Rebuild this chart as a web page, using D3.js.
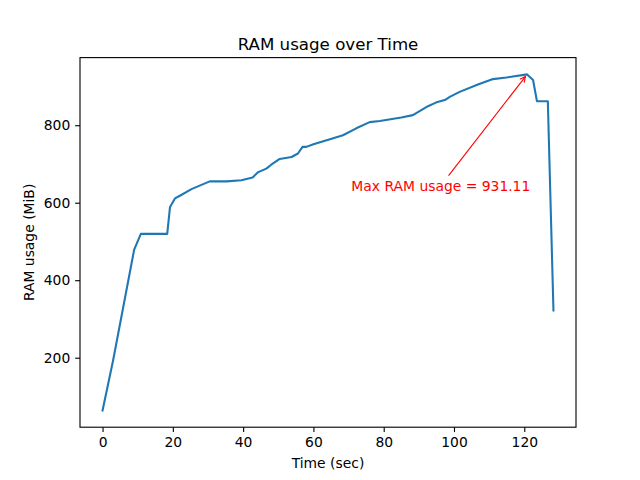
<!DOCTYPE html>
<html><head><meta charset="utf-8">
<script src="https://cdn.jsdelivr.net/npm/d3@7"></script>
<style>body{margin:0;background:#fff}svg{display:block;font-family:"DejaVu Sans",sans-serif}</style>
</head><body>
<svg id="c" width="640" height="480"></svg>
<script>
const times = [0, 3, 9, 10.9, 18.4, 19.2, 20.6, 22, 25.3, 30.5, 35.3, 39.5, 42.7, 44.3, 46.6, 48, 50.4, 53.8, 55.6, 56.9, 58, 60, 64, 68.4, 72.2, 76, 78.9, 85, 88.3, 92.6, 95, 97.4, 98.8, 101.6, 106.8, 111.1, 114.9, 120.8, 122.5, 123.6, 126.7, 128.3];
const ramValues = [64, 193, 479, 519.6, 519.6, 589, 611, 618, 635, 655, 655, 658, 665, 679, 688, 698, 713, 718, 727, 744, 744, 751, 762, 774, 792, 808, 811, 820, 826, 849, 859, 865, 873, 886, 905, 919, 923, 931.11, 916.6, 862, 862, 322];
const xTicks = [0, 20, 40, 60, 80, 100, 120];
const yTicks = [200, 400, 600, 800];
const titleText = "RAM usage over Time";
const xLabel = "Time (sec)";
const yLabel = "RAM usage (MiB)";

const svg = d3.select("#c");
const L = 80, R = 576, T = 57.6, B = 427.2;
const pad = (a, b) => { const m = (b - a) * 0.05; return [a - m, b + m]; };
const x = d3.scaleLinear().domain(pad(d3.min(times), d3.max(times))).range([L, R]);
const y = d3.scaleLinear().domain(pad(d3.min(ramValues), d3.max(ramValues))).range([B, T]);
const data = times.map((t, i) => [t, ramValues[i]]);

// axes
const xa = svg.append("g").attr("transform", `translate(0,${B})`)
  .call(d3.axisBottom(x).tickValues(xTicks).tickSize(4.86).tickPadding(4.86).tickFormat(d3.format("d")));
const ya = svg.append("g").attr("transform", `translate(${L},0)`)
  .call(d3.axisLeft(y).tickValues(yTicks).tickSize(4.86).tickPadding(4.86).tickFormat(d3.format("d")));
[xa, ya].forEach(g => {
  g.select(".domain").remove();
  g.selectAll("line").attr("stroke", "#000").attr("stroke-width", 1.11);
  g.selectAll("text").attr("font-size", 13.89).attr("fill", "#000").attr("font-family", "DejaVu Sans");
});
xa.selectAll("text").attr("dy", "0.76em");

// line
svg.append("path").datum(data)
  .attr("d", d3.line().x(d => x(d[0])).y(d => y(d[1])))
  .attr("fill", "none").attr("stroke", "#1f77b4").attr("stroke-width", 2.08)
  .attr("stroke-linejoin", "round").attr("stroke-linecap", "square");

// frame
svg.append("rect").attr("x", L).attr("y", T).attr("width", R - L).attr("height", B - T)
  .attr("fill", "none").attr("stroke", "#000").attr("stroke-width", 1.11);

// annotation
const maxI = d3.maxIndex(ramValues);
const mt = times[maxI], mv = ramValues[maxI];
const txt = svg.append("text").attr("x", x(mt - 50)).attr("y", y(mv - 300))
  .attr("font-size", 13.89).attr("fill", "red").text("Max RAM usage = " + mv.toFixed(2));
const bb = txt.node().getBBox();
const cx = bb.x + bb.width / 2, cy = bb.y + bb.height / 2;
const px = x(mt), py = y(mv);
const dx = px - cx, dy = py - cy;
const boxTop = bb.y - 2;
const s = (boxTop - cy) / dy;
const sx = cx + dx * s, sy = cy + dy * s;
const len = Math.hypot(px - sx, py - sy);
const ux = (px - sx) / len, uy = (py - sy) / len;
const ex = px - ux * 2.78, ey = py - uy * 2.78;
svg.append("line").attr("x1", sx).attr("y1", sy).attr("x2", ex).attr("y2", ey)
  .attr("stroke", "red").attr("stroke-width", 1.11);
const hl = 6.2, ang = 0.46;
const back = Math.atan2(-uy, -ux);
const h1 = [ex + hl * Math.cos(back + ang), ey + hl * Math.sin(back + ang)];
const h2 = [ex + hl * Math.cos(back - ang), ey + hl * Math.sin(back - ang)];
svg.append("path").attr("d", `M${h1[0]},${h1[1]}L${ex},${ey}L${h2[0]},${h2[1]}`)
  .attr("fill", "none").attr("stroke", "red").attr("stroke-width", 1.11);

// titles
svg.append("text").attr("x", (L + R) / 2).attr("y", 49.5).attr("text-anchor", "middle")
  .attr("font-size", 16.67).text(titleText);
svg.append("text").attr("x", (L + R) / 2).attr("y", 467.5).attr("text-anchor", "middle")
  .attr("font-size", 13.89).text(xLabel);
svg.append("text").attr("transform", `translate(34,${(T + B) / 2}) rotate(-90)`).attr("text-anchor", "middle")
  .attr("font-size", 13.89).text(yLabel);
</script>
</body></html>
